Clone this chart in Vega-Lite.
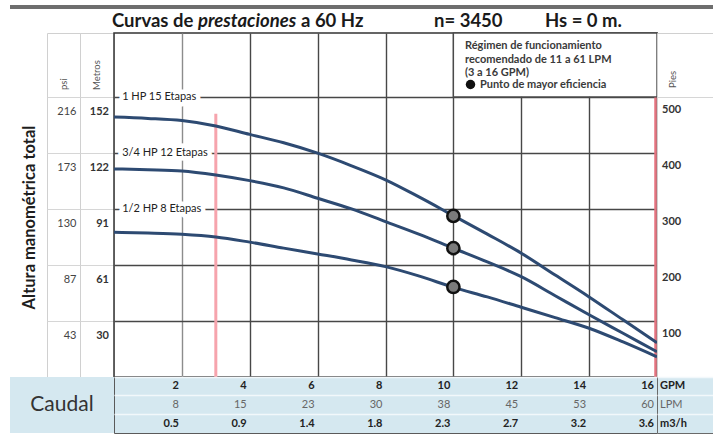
{
  "$schema": "https://vega.github.io/schema/vega-lite/v6.json",
  "padding": {"left": 10, "top": 5, "right": 0, "bottom": 0},
  "background": "white",
  "columns": 5,
  "spacing": 0,
  "bounds": "flush",
  "resolve": {"legend": {"fill": "independent"}},
  "config": {
    "font": "Lato",
    "view": {"stroke": "#d0d0d0", "strokeWidth": 1},
    "concat": {"spacing": 0}
  },
  "datasets": {
    "curvas": [
      {"curva": "1 HP 15 Etapas", "gpm": 0, "ft": 464},
      {"curva": "1 HP 15 Etapas", "gpm": 1, "ft": 461.6},
      {"curva": "1 HP 15 Etapas", "gpm": 2, "ft": 457.7},
      {"curva": "1 HP 15 Etapas", "gpm": 3, "ft": 448},
      {"curva": "1 HP 15 Etapas", "gpm": 4, "ft": 433},
      {"curva": "1 HP 15 Etapas", "gpm": 5, "ft": 418},
      {"curva": "1 HP 15 Etapas", "gpm": 6, "ft": 399.5},
      {"curva": "1 HP 15 Etapas", "gpm": 7, "ft": 377},
      {"curva": "1 HP 15 Etapas", "gpm": 8, "ft": 352},
      {"curva": "1 HP 15 Etapas", "gpm": 9, "ft": 321},
      {"curva": "1 HP 15 Etapas", "gpm": 10, "ft": 288},
      {"curva": "1 HP 15 Etapas", "gpm": 11, "ft": 255},
      {"curva": "1 HP 15 Etapas", "gpm": 12, "ft": 221},
      {"curva": "1 HP 15 Etapas", "gpm": 13, "ft": 182},
      {"curva": "1 HP 15 Etapas", "gpm": 14, "ft": 143},
      {"curva": "1 HP 15 Etapas", "gpm": 15, "ft": 102},
      {"curva": "1 HP 15 Etapas", "gpm": 16, "ft": 61},
      {"curva": "3/4 HP 12 Etapas", "gpm": 0, "ft": 371.4},
      {"curva": "3/4 HP 12 Etapas", "gpm": 1, "ft": 370},
      {"curva": "3/4 HP 12 Etapas", "gpm": 2, "ft": 367.9},
      {"curva": "3/4 HP 12 Etapas", "gpm": 3, "ft": 360.7},
      {"curva": "3/4 HP 12 Etapas", "gpm": 4, "ft": 350.5},
      {"curva": "3/4 HP 12 Etapas", "gpm": 5, "ft": 337.5},
      {"curva": "3/4 HP 12 Etapas", "gpm": 6, "ft": 319},
      {"curva": "3/4 HP 12 Etapas", "gpm": 7, "ft": 300},
      {"curva": "3/4 HP 12 Etapas", "gpm": 8, "ft": 277.3},
      {"curva": "3/4 HP 12 Etapas", "gpm": 9, "ft": 254.5},
      {"curva": "3/4 HP 12 Etapas", "gpm": 10, "ft": 229.8},
      {"curva": "3/4 HP 12 Etapas", "gpm": 11, "ft": 205.4},
      {"curva": "3/4 HP 12 Etapas", "gpm": 12, "ft": 179},
      {"curva": "3/4 HP 12 Etapas", "gpm": 13, "ft": 145},
      {"curva": "3/4 HP 12 Etapas", "gpm": 14, "ft": 111},
      {"curva": "3/4 HP 12 Etapas", "gpm": 15, "ft": 78},
      {"curva": "3/4 HP 12 Etapas", "gpm": 16, "ft": 45},
      {"curva": "1/2 HP 8 Etapas", "gpm": 0, "ft": 258.4},
      {"curva": "1/2 HP 8 Etapas", "gpm": 1, "ft": 257},
      {"curva": "1/2 HP 8 Etapas", "gpm": 2, "ft": 254.8},
      {"curva": "1/2 HP 8 Etapas", "gpm": 3, "ft": 250},
      {"curva": "1/2 HP 8 Etapas", "gpm": 4, "ft": 240.7},
      {"curva": "1/2 HP 8 Etapas", "gpm": 5, "ft": 230},
      {"curva": "1/2 HP 8 Etapas", "gpm": 6, "ft": 219.6},
      {"curva": "1/2 HP 8 Etapas", "gpm": 7, "ft": 209},
      {"curva": "1/2 HP 8 Etapas", "gpm": 8, "ft": 197},
      {"curva": "1/2 HP 8 Etapas", "gpm": 9, "ft": 180},
      {"curva": "1/2 HP 8 Etapas", "gpm": 10, "ft": 160},
      {"curva": "1/2 HP 8 Etapas", "gpm": 11, "ft": 143},
      {"curva": "1/2 HP 8 Etapas", "gpm": 12, "ft": 124.5},
      {"curva": "1/2 HP 8 Etapas", "gpm": 13, "ft": 106},
      {"curva": "1/2 HP 8 Etapas", "gpm": 14, "ft": 87},
      {"curva": "1/2 HP 8 Etapas", "gpm": 15, "ft": 62.5},
      {"curva": "1/2 HP 8 Etapas", "gpm": 16, "ft": 36}
    ],
    "optimo": [
      {"tipo": "Punto de mayor eficiencia", "gpm": 10, "ft": 287.5},
      {"tipo": "Punto de mayor eficiencia", "gpm": 10, "ft": 230},
      {"tipo": "Punto de mayor eficiencia", "gpm": 10, "ft": 160.7}
    ],
    "etiquetas": [
      {"label": "1 HP 15 Etapas", "gpm": 0.24, "ft": 500},
      {"label": "3/4 HP 12 Etapas", "gpm": 0.24, "ft": 400},
      {"label": "1/2 HP 8 Etapas", "gpm": 0.24, "ft": 300}
    ],
    "regimen": [
      {"gpm": 3},
      {"gpm": 16}
    ],
    "altura": [
      {"pies": 100, "psi": 43, "metros": 30},
      {"pies": 200, "psi": 87, "metros": 61},
      {"pies": 300, "psi": 130, "metros": 91},
      {"pies": 400, "psi": 173, "metros": 122},
      {"pies": 500, "psi": 216, "metros": 152}
    ],
    "caudal": [
      {"GPM": 2, "LPM": 8, "m3h": "0.5"},
      {"GPM": 4, "LPM": 15, "m3h": "0.9"},
      {"GPM": 6, "LPM": 23, "m3h": "1.4"},
      {"GPM": 8, "LPM": 30, "m3h": "1.8"},
      {"GPM": 10, "LPM": 38, "m3h": "2.3"},
      {"GPM": 12, "LPM": 45, "m3h": "2.7"},
      {"GPM": 14, "LPM": 53, "m3h": "3.2"},
      {"GPM": 16, "LPM": 60, "m3h": "3.6"}
    ],
    "unidades": [
      {"fila": "GPM", "u": "GPM"},
      {"fila": "LPM", "u": "LPM"},
      {"fila": "m3h", "u": "m3/h"}
    ]
  },
  "concat": [
    {"width": 37, "height": 4, "view": {"fill": "#6e6e6e", "stroke": null}, "data": {"values": []}, "mark": "text"},
    {"width": 33, "height": 4, "view": {"fill": "#6e6e6e", "stroke": null}, "data": {"values": []}, "mark": "text"},
    {"width": 34, "height": 4, "view": {"fill": "#6e6e6e", "stroke": null}, "data": {"values": []}, "mark": "text"},
    {"width": 543, "height": 4, "view": {"fill": "#6e6e6e", "stroke": null}, "data": {"values": []}, "mark": "text"},
    {"width": 56, "height": 4, "view": {"fill": "#6e6e6e", "stroke": null}, "data": {"values": []}, "mark": "text"},

    {"width": 37, "height": 24, "view": {"stroke": null}, "data": {"values": []}, "mark": "text"},
    {"width": 33, "height": 24, "view": {"stroke": null}, "data": {"values": []}, "mark": "text"},
    {"width": 34, "height": 24, "view": {"stroke": null}, "data": {"values": []}, "mark": "text"},
    {"width": 543, "height": 24, "view": {"stroke": null}, "data": {"values": []}, "mark": "text"},
    {
      "width": 56, "height": 24,
      "view": {"stroke": null},
      "data": {"values": [{}]},
      "layer": [
        {"mark": {"type": "text", "align": "left", "baseline": "middle", "fontSize": 18.5, "fontWeight": "bold", "color": "#1a1a1a", "dx": -573}, "encoding": {"text": {"value": "Curvas de"}}},
        {"mark": {"type": "text", "align": "left", "baseline": "middle", "fontSize": 18.5, "fontWeight": "bold", "fontStyle": "italic", "color": "#1a1a1a", "dx": -487}, "encoding": {"text": {"value": "prestaciones"}}},
        {"mark": {"type": "text", "align": "left", "baseline": "middle", "fontSize": 18.5, "fontWeight": "bold", "color": "#1a1a1a", "dx": -384}, "encoding": {"text": {"value": "a 60 Hz"}}},
        {"mark": {"type": "text", "align": "left", "baseline": "middle", "fontSize": 18.5, "fontWeight": "bold", "color": "#1a1a1a", "dx": -251}, "encoding": {"text": {"value": "n= 3450"}}},
        {"mark": {"type": "text", "align": "left", "baseline": "middle", "fontSize": 18.5, "fontWeight": "bold", "color": "#1a1a1a", "dx": -140}, "encoding": {"text": {"value": "Hs = 0 m."}}}
      ]
    },

    {"width": 37, "height": 344, "data": {"values": [{}]},
     "mark": {"type": "text", "angle": 270, "align": "center", "baseline": "middle", "fontSize": 16.5, "fontWeight": "bold", "color": "#1e1e1e", "dx": -12.5, "dy": 1.5},
     "encoding": {"text": {"value": "Altura manométrica total"}}},
    {"width": 33, "height": 344,
     "layer": [
       {"data": {"name": "altura"},
        "mark": {"type": "text", "align": "right", "baseline": "middle", "fontSize": 11, "color": "#444", "dx": 13, "dy": 15},
        "encoding": {
          "y": {"field": "pies", "type": "quantitative", "scale": {"domain": [0, 614], "nice": false},
                "axis": {"values": [100, 200, 300, 400, 500], "grid": true, "gridColor": "#d6d6d6", "labels": false, "ticks": false, "domain": false, "title": null}},
          "text": {"field": "psi", "type": "nominal"}
        }},
       {"data": {"values": [{}]},
        "mark": {"type": "text", "angle": 270, "align": "left", "baseline": "middle", "fontSize": 9.5, "color": "#555", "dx": 115},
        "encoding": {"text": {"value": "psi"}}}
     ]},
    {"width": 34, "height": 344,
     "layer": [
       {"data": {"name": "altura"},
        "mark": {"type": "text", "align": "right", "baseline": "middle", "fontSize": 11, "fontWeight": "bold", "color": "#333", "dx": 12, "dy": 15},
        "encoding": {
          "y": {"field": "pies", "type": "quantitative", "scale": {"domain": [0, 614], "nice": false},
                "axis": {"values": [100, 200, 300, 400, 500], "grid": true, "gridColor": "#d6d6d6", "labels": false, "ticks": false, "domain": false, "title": null}},
          "text": {"field": "metros", "type": "nominal"}
        }},
       {"data": {"values": [{}]},
        "mark": {"type": "text", "angle": 270, "align": "left", "baseline": "middle", "fontSize": 9.5, "color": "#555", "dx": 115},
        "encoding": {"text": {"value": "Metros"}}}
     ]},
    {
      "width": 543, "height": 344,
      "view": {"stroke": "#333", "strokeWidth": 1.5},
      "layer": [
        {"data": {"name": "regimen"},
         "transform": [{"filter": "datum.gpm == 3"}],
         "mark": {"type": "rule", "stroke": "#f6a4ad", "strokeWidth": 3},
         "encoding": {
           "x": {"field": "gpm", "type": "quantitative", "scale": {"domain": [0, 16], "nice": false, "zero": false},
                 "axis": {"values": [2, 4, 6, 8, 10, 12, 14], "grid": true, "gridColor": {"condition": {"test": "datum.value == 2", "value": "#8c8c8c"}, "value": "#474747"}, "gridWidth": 1.4, "labels": false, "ticks": false, "domain": false, "title": null}},
           "y": {"datum": 470, "type": "quantitative", "scale": {"domain": [0, 614], "nice": false},
                 "axis": {"values": [100, 200, 300, 400, 500], "grid": true, "gridColor": "#474747", "gridWidth": 1.4, "labels": false, "ticks": false, "domain": false, "title": null}},
           "y2": {"datum": 0}
         }},
        {"data": {"name": "regimen"},
         "transform": [{"filter": "datum.gpm == 16"}],
         "mark": {"type": "rule", "stroke": "#e47480", "strokeWidth": 2.5, "xOffset": -1.5},
         "encoding": {
           "x": {"field": "gpm", "type": "quantitative", "scale": {"domain": [0, 16], "nice": false, "zero": false},
                 "axis": {"values": [2, 4, 6, 8, 10, 12, 14], "grid": true, "gridColor": {"condition": {"test": "datum.value == 2", "value": "#8c8c8c"}, "value": "#474747"}, "gridWidth": 1.4, "labels": false, "ticks": false, "domain": false, "title": null}},
           "y": {"datum": 505, "type": "quantitative", "scale": {"domain": [0, 614], "nice": false},
                 "axis": {"values": [100, 200, 300, 400, 500], "grid": true, "gridColor": "#474747", "gridWidth": 1.4, "labels": false, "ticks": false, "domain": false, "title": null}},
           "y2": {"datum": 0}
         }},
        {"data": {"values": [{}]},
         "mark": {"type": "rect", "fill": "white", "stroke": "#4a4a4a", "strokeWidth": 1.4},
         "encoding": {
           "x": {"datum": 10, "type": "quantitative", "scale": {"domain": [0, 16], "nice": false, "zero": false},
                 "axis": {"values": [2, 4, 6, 8, 10, 12, 14], "grid": true, "gridColor": {"condition": {"test": "datum.value == 2", "value": "#8c8c8c"}, "value": "#474747"}, "gridWidth": 1.4, "labels": false, "ticks": false, "domain": false, "title": null}},
           "x2": {"datum": 16},
           "y": {"datum": 614, "type": "quantitative", "scale": {"domain": [0, 614], "nice": false},
                 "axis": {"values": [100, 200, 300, 400, 500], "grid": true, "gridColor": "#474747", "gridWidth": 1.4, "labels": false, "ticks": false, "domain": false, "title": null}},
           "y2": {"datum": 500}
         }},
        {"data": {"name": "curvas"},
         "mark": {"type": "line", "color": "#2d4a72", "strokeWidth": 3, "interpolate": "monotone"},
         "encoding": {
           "x": {"field": "gpm", "type": "quantitative", "scale": {"domain": [0, 16], "nice": false, "zero": false},
                 "axis": {"values": [2, 4, 6, 8, 10, 12, 14], "grid": true, "gridColor": {"condition": {"test": "datum.value == 2", "value": "#8c8c8c"}, "value": "#474747"}, "gridWidth": 1.4, "labels": false, "ticks": false, "domain": false, "title": null}},
           "y": {"field": "ft", "type": "quantitative", "scale": {"domain": [0, 614], "nice": false},
                 "axis": {"values": [100, 200, 300, 400, 500], "grid": true, "gridColor": "#474747", "gridWidth": 1.4, "labels": false, "ticks": false, "domain": false, "title": null}},
           "detail": {"field": "curva", "type": "nominal"}
         }},
        {"data": {"name": "etiquetas"},
         "mark": {"type": "text", "align": "left", "baseline": "middle", "fontSize": 11, "fill": "white", "stroke": "white", "strokeWidth": 9, "strokeJoin": "round"},
         "encoding": {
           "x": {"field": "gpm", "type": "quantitative", "scale": {"domain": [0, 16], "nice": false, "zero": false},
                 "axis": {"values": [2, 4, 6, 8, 10, 12, 14], "grid": true, "gridColor": {"condition": {"test": "datum.value == 2", "value": "#8c8c8c"}, "value": "#474747"}, "gridWidth": 1.4, "labels": false, "ticks": false, "domain": false, "title": null}},
           "y": {"field": "ft", "type": "quantitative", "scale": {"domain": [0, 614], "nice": false},
                 "axis": {"values": [100, 200, 300, 400, 500], "grid": true, "gridColor": "#474747", "gridWidth": 1.4, "labels": false, "ticks": false, "domain": false, "title": null}},
           "text": {"field": "label", "type": "nominal"}
         }},
        {"data": {"name": "etiquetas"},
         "mark": {"type": "text", "align": "left", "baseline": "middle", "fontSize": 11, "color": "#222"},
         "encoding": {
           "x": {"field": "gpm", "type": "quantitative", "scale": {"domain": [0, 16], "nice": false, "zero": false},
                 "axis": {"values": [2, 4, 6, 8, 10, 12, 14], "grid": true, "gridColor": {"condition": {"test": "datum.value == 2", "value": "#8c8c8c"}, "value": "#474747"}, "gridWidth": 1.4, "labels": false, "ticks": false, "domain": false, "title": null}},
           "y": {"field": "ft", "type": "quantitative", "scale": {"domain": [0, 614], "nice": false},
                 "axis": {"values": [100, 200, 300, 400, 500], "grid": true, "gridColor": "#474747", "gridWidth": 1.4, "labels": false, "ticks": false, "domain": false, "title": null}},
           "text": {"field": "label", "type": "nominal"}
         }},
        {"data": {"name": "optimo"},
         "mark": {"type": "circle", "size": 0, "strokeWidth": 0},
         "encoding": {
           "x": {"field": "gpm", "type": "quantitative", "scale": {"domain": [0, 16], "nice": false, "zero": false},
                 "axis": {"values": [2, 4, 6, 8, 10, 12, 14], "grid": true, "gridColor": {"condition": {"test": "datum.value == 2", "value": "#8c8c8c"}, "value": "#474747"}, "gridWidth": 1.4, "labels": false, "ticks": false, "domain": false, "title": null}},
           "y": {"field": "ft", "type": "quantitative", "scale": {"domain": [0, 614], "nice": false},
                 "axis": {"values": [100, 200, 300, 400, 500], "grid": true, "gridColor": "#474747", "gridWidth": 1.4, "labels": false, "ticks": false, "domain": false, "title": null}},
           "fill": {"field": "tipo", "type": "nominal", "scale": {"range": ["#111111"]},
                    "legend": {
                      "orient": "none", "legendX": 351, "legendY": 7,
                      "title": ["Régimen de funcionamiento", "recomendado de 11 a 61 LPM", "(3 a 16 GPM)"],
                      "titleLimit": 400,
                      "titleFont": "Lato", "titleFontSize": 11, "titleFontWeight": "bold", "titleColor": "#3a3a3a", "titleLineHeight": 13.5, "titlePadding": 1,
                      "labelFont": "Lato", "labelFontSize": 11, "labelFontWeight": "bold", "labelColor": "#3a3a3a", "labelOffset": 4,
                      "symbolSize": 90, "symbolStrokeWidth": 0, "symbolOpacity": 1,
                      "padding": 0
                    }}
         }},
        {"data": {"name": "optimo"},
         "mark": {"type": "circle", "size": 150, "fill": "#7b7b7b", "stroke": "#111", "strokeWidth": 2.5, "opacity": 1},
         "encoding": {
           "x": {"field": "gpm", "type": "quantitative", "scale": {"domain": [0, 16], "nice": false, "zero": false},
                 "axis": {"values": [2, 4, 6, 8, 10, 12, 14], "grid": true, "gridColor": {"condition": {"test": "datum.value == 2", "value": "#8c8c8c"}, "value": "#474747"}, "gridWidth": 1.4, "labels": false, "ticks": false, "domain": false, "title": null}},
           "y": {"field": "ft", "type": "quantitative", "scale": {"domain": [0, 614], "nice": false},
                 "axis": {"values": [100, 200, 300, 400, 500], "grid": true, "gridColor": "#474747", "gridWidth": 1.4, "labels": false, "ticks": false, "domain": false, "title": null}}
         }}
      ]
    },
    {"width": 56, "height": 344,
     "layer": [
       {"data": {"name": "altura"},
        "mark": {"type": "text", "align": "left", "baseline": "middle", "fontSize": 11, "fontWeight": "bold", "color": "#333", "dx": -23, "dy": 13},
        "encoding": {
          "y": {"field": "pies", "type": "quantitative", "scale": {"domain": [0, 614], "nice": false},
                "axis": {"values": [500], "grid": true, "gridColor": "#d6d6d6", "labels": false, "ticks": false, "domain": false, "title": null}},
          "text": {"field": "pies", "type": "nominal"}
        }},
       {"data": {"values": [{}]},
        "mark": {"type": "text", "angle": 270, "align": "left", "baseline": "middle", "fontSize": 9.5, "color": "#555", "dx": 117, "dy": -12},
        "encoding": {"text": {"value": "Pies"}}}
     ]},

    {"width": 37, "height": 56, "view": {"fill": "#d5e8f0", "stroke": null}, "data": {"values": []}, "mark": "text"},
    {"width": 33, "height": 56, "view": {"fill": "#d5e8f0", "stroke": null}, "data": {"values": []}, "mark": "text"},
    {"width": 34, "height": 56, "view": {"fill": "#d5e8f0", "stroke": null},
     "data": {"values": [{}]},
     "mark": {"type": "text", "fontSize": 21, "color": "#333", "baseline": "middle", "align": "center", "dx": -35},
     "encoding": {"text": {"value": "Caudal"}}},
    {"width": 543, "height": 56,
     "view": {"fill": "#d5e8f0", "stroke": "#5a5a5a"},
     "data": {"name": "caudal"},
     "transform": [{"fold": ["GPM", "LPM", "m3h"], "as": ["fila", "valor"]}],
     "encoding": {
       "x": {"field": "GPM", "type": "quantitative", "scale": {"domain": [0, 16], "nice": false, "zero": false}, "axis": null},
       "y": {"field": "fila", "type": "nominal", "scale": {"type": "band", "domain": ["GPM", "LPM", "m3h"], "paddingInner": 0, "paddingOuter": 0},
             "axis": {"grid": true, "bandPosition": 0, "gridColor": "#f2f8fb", "gridWidth": 1.5, "labels": false, "ticks": false, "domain": false, "title": null}},
       "text": {"field": "valor", "type": "nominal"}
     },
     "layer": [
       {"transform": [{"filter": "datum.fila == 'GPM'"}], "mark": {"type": "text", "align": "right", "baseline": "middle", "dx": -3, "fontSize": 11, "fontWeight": "bold", "color": "#222"}},
       {"transform": [{"filter": "datum.fila == 'LPM'"}], "mark": {"type": "text", "align": "right", "baseline": "middle", "dx": -3, "fontSize": 11, "color": "#666"}},
       {"transform": [{"filter": "datum.fila == 'm3h'"}], "mark": {"type": "text", "align": "right", "baseline": "middle", "dx": -3, "fontSize": 11, "fontWeight": "bold", "color": "#222"}}
     ]},
    {"width": 56, "height": 56,
     "view": {"fill": "#d5e8f0", "stroke": "#6a6a6a"},
     "data": {"name": "unidades"},
     "encoding": {
       "y": {"field": "fila", "type": "nominal", "scale": {"type": "band", "domain": ["GPM", "LPM", "m3h"], "paddingInner": 0, "paddingOuter": 0},
             "axis": {"grid": true, "bandPosition": 0, "gridColor": "#f2f8fb", "gridWidth": 1.5, "labels": false, "ticks": false, "domain": false, "title": null}},
       "text": {"field": "u", "type": "nominal"}
     },
     "layer": [
       {"transform": [{"filter": "datum.fila != 'LPM'"}], "mark": {"type": "text", "align": "left", "baseline": "middle", "dx": -25, "fontSize": 11, "fontWeight": "bold", "color": "#222"}},
       {"transform": [{"filter": "datum.fila == 'LPM'"}], "mark": {"type": "text", "align": "left", "baseline": "middle", "dx": -25, "fontSize": 11, "color": "#666"}}
     ]}
  ]
}
